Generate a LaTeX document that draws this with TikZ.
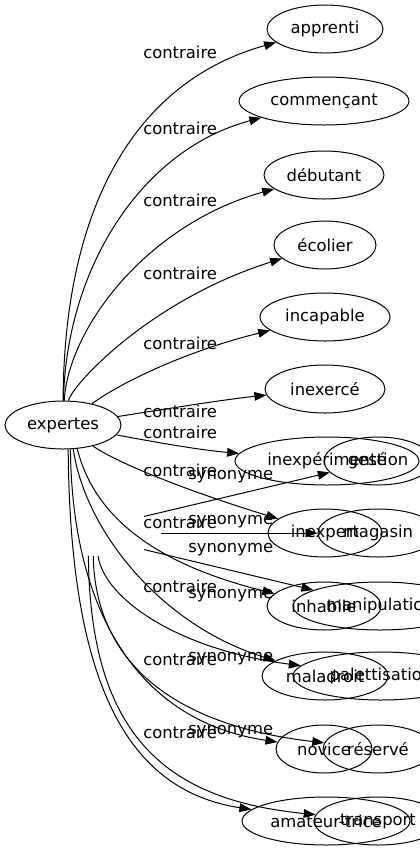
\documentclass[tikz,border=0pt]{standalone}
\usepackage{fontspec}
\setmainfont{DejaVu Sans}
\usetikzlibrary{shapes.geometric,arrows.meta}
\begin{document}
\begin{tikzpicture}[x=0.75pt,y=-0.75pt,
  every node/.style={font=\fontsize{12.3}{14}\selectfont},
  nd/.style={draw, ellipse, inner sep=0pt, minimum height=36pt, line width=0.75pt},
  ewid/.style={minimum width={1.5*#1*1pt}},
  hid/.style={ellipse, inner sep=0pt, minimum height=34.5pt},
  lab/.style={inner sep=0pt, anchor=west},
  arr/.style={line width=0.75pt, -{Triangle[length=9pt,width=6.5pt]}}
]
\useasboundingbox (0,0) rectangle (420,851);
% contraire graph
\node[nd, ewid=58] (ex) at (63,425) {expertes};
\node[nd, ewid=58] (apprenti) at (325,29) {apprenti};
\node[nd, ewid=85] (commencant) at (324,101) {commençant};
\node[nd, ewid=60] (debutant) at (324,175) {débutant};
\node[nd, ewid=51] (ecolier) at (325,245) {écolier};
\node[nd, ewid=65] (incapable) at (325,317) {incapable};
\node[nd, ewid=60] (inexerce) at (325,389) {inexercé};
\node[nd, ewid=92] (inexperimente) at (327,461) {inexpérimenté};
\node[nd, ewid=57] (inexpert) at (325,533) {inexpert};
\node[nd, ewid=57] (inhabile) at (324,606) {inhabile};
\node[nd, ewid=63] (maladroit) at (325,676) {maladroit};
\node[nd, ewid=48] (novice) at (324,749) {novice};
\node[nd, ewid=84] (amateur) at (326,821) {amateur-trice};
% synonyme graph (its source node is not drawn)
\node[hid, ewid=58] (es) at (103,533) {};
\node[nd, ewid=54] (gestion) at (378,461) {gestion};
\node[nd, ewid=60] (magasin) at (378,533) {magasin};
\node[nd, ewid=87] (manipulation) at (380,606) {manipulation};
\node[nd, ewid=88] (palettisation) at (381,676) {palettisation};
\node[nd, ewid=55] (reserve) at (378,749) {réservé};
\node[nd, ewid=64] (transport) at (378,821) {transport};
% labels
\foreach \y/\n in {52/a,128/b,200/c,273/d,343/e,411/f,432/g,470/h,522/i,586/j,659/k,732/l}
  \node[lab] (c\n) at (143,\y) {contraire};
\foreach \y/\n in {477/a,522/b,550/c,596/d,659/e,732/f}
  \node[lab] (s\n) at (188,\y) {synonyme};
% contraire edges
\draw[arr] (ex) .. controls (64,200) and (140,80) .. (apprenti);
\draw[arr] (ex) .. controls (66,270) and (140,150) .. (commencant);
\draw[arr] (ex) .. controls (68,330) and (145,225) .. (debutant);
\draw[arr] (ex) .. controls (72,385) and (150,300) .. (ecolier);
\draw[arr] (ex) .. controls (123,381) and (190,350) .. (incapable);
\draw[arr] (ex) .. controls (160,410) and (220,400) .. (inexerce);
\draw[arr] (ex) .. controls (160,443) and (200,450) .. (inexperimente);
\draw[arr] (ex) .. controls (120,465) and (200,495) .. (inexpert);
\draw[arr] (ex.301) .. controls (95,520) and (160,565) .. (inhabile);
\draw[arr] (ex.293) .. controls (85,530) and (160,625) .. (maladroit);
\draw[arr] (ex.287) .. controls (72,600) and (130,720) .. (novice);
\draw[arr] (ex.282) .. controls (70,680) and (125,790) .. (amateur);
% synonyme edges
\draw[arr] (es.22) -- (gestion);
\draw[arr] (es) -- (magasin);
\draw[arr] (es.338) -- (manipulation);
\draw[arr] (es.258) .. controls (105,600) and (180,650) .. (palettisation);
\draw[arr] (es.247) .. controls (95,660) and (170,725) .. (reserve);
\draw[arr] (es.237) .. controls (90,740) and (170,800) .. (transport);
\end{tikzpicture}
\end{document}
